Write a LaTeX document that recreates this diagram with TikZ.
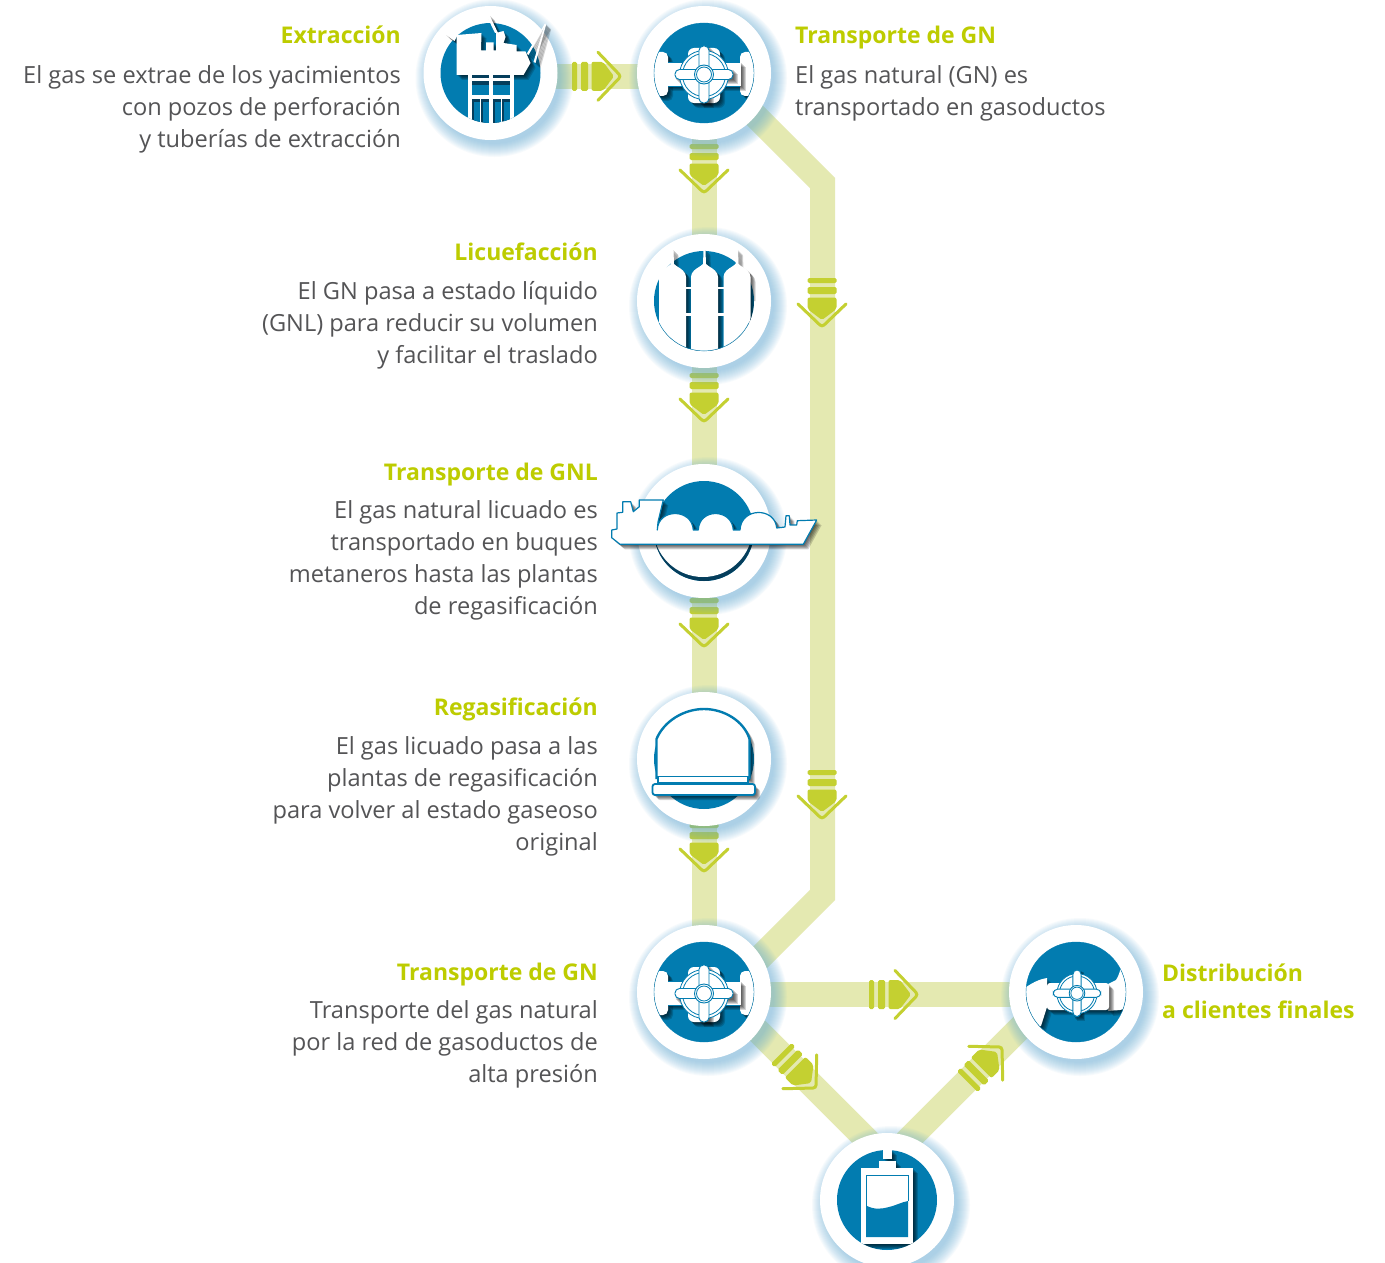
\documentclass[tikz,border=0pt]{standalone}
\usepackage{fontspec}
\setmainfont{Open Sans}
\definecolor{gblue}{RGB}{2,124,176}
\definecolor{gdark}{RGB}{5,62,92}
\definecolor{gpipe}{RGB}{228,233,177}
\definecolor{garrow}{RGB}{196,208,49}
\definecolor{gtitle}{RGB}{189,204,0}
\definecolor{gtext}{RGB}{84,84,86}
\definecolor{gglow}{RGB}{105,175,215}
\newcommand{\shad}[1]{\foreach \d in {5,...,1}{\fill[black,opacity=.17,shift={(\d,\d)}] #1;}}
\newcommand{\solid}[1]{\shad{#1}\fill[white] #1;}
\newcommand{\flowmark}[3]{\begin{scope}[shift={(#1,#2)},rotate=#3]
 \fill[garrow,rounded corners=1.5] (-49,-14.5) rectangle (-44,14.5);
 \fill[garrow,rounded corners=1.5] (-40,-14.5) rectangle (-33,14.5);
 \fill[garrow,rounded corners=2] (-29.5,-14.5) -- (-18,-14.5) -- (-7,0) -- (-18,14.5) -- (-29.5,14.5) -- cycle;
 \draw[garrow,line width=3,line cap=round,rounded corners=3] (-23,-24) -- (0,0) -- (-23,24);
\end{scope}}
\newcommand{\wheel}{%
 \draw[gblue,line width=.8,fill=white] (0,2) circle (24.5);
 \draw[gblue,line width=.8] (0,2) circle (21.5);
 \draw[gblue,line width=.9,fill=white,rounded corners=4.5] (-29,-3.5) rectangle (29,6.5);
 \draw[gblue,line width=.9,fill=white,rounded corners=4.5] (-5,-27) rectangle (5,30);
 \draw[gblue,line width=.9,fill=white] (0,1.5) circle (9.5);
 \draw[gblue,line width=.8] (0,1.5) circle (7.5);
}
\newcommand{\valveicon}[2]{\begin{scope}[shift={(#1,#2)}]
 \fill[gblue] (0,0) circle (50);
 \begin{scope}
 \clip (0,0) circle (50);
 \solid{[rounded corners=5] (-54,-21) rectangle (-36,23)}
 \solid{[rounded corners=5] (36,-21) rectangle (54,23)}
 \solid{(-37,-11) rectangle (37,13)}
 \solid{[rounded corners=6] (-16,-25) rectangle (16,30)}
 \shad{(-29,-3.5) rectangle (29,6.5)}
 \shad{(-5,-27) rectangle (5,30)}
 \draw[gblue,line width=.7] (-36,-11) -- (36,-11) (-36,13) -- (36,13);
 \wheel
 \end{scope}
 \draw[gblue,line width=.4] (0,0) circle (50);
\end{scope}}
\newcommand{\bodytext}[5]{\node[bodytxt,anchor=north #1,align=#2] (#3) at (#4) {\rule{0pt}{20pt}#5};}
\tikzset{
 pipe/.style={gpipe,line width=25,line cap=butt,line join=miter},
 disc/.style={circle,fill=white,minimum size=134,inner sep=0},
 ttl/.style={font=\fontsize{23}{32}\selectfont\bfseries,text=gtitle,inner sep=0},
 bodytxt/.style={font=\fontsize{23.6}{32}\selectfont,text=gtext,inner sep=0}
}
\begin{document}
\begin{tikzpicture}[x=1pt,y=-1pt]
\path[clip] (0,0) rectangle (1385,1263);
\fill[white] (0,0) rectangle (1385,1263);
% centres
\coordinate (cExt) at (490.5,73);
\coordinate (cVal) at (704,73);
\coordinate (cLiq) at (704,301);
\coordinate (cShip) at (704,531);
\coordinate (cReg) at (704,759);
\coordinate (cRed) at (704,992);
\coordinate (cDis) at (1076,992);
\coordinate (cTan) at (887,1200);
% pipe way points
\coordinate (pa) at (490,76.3);
\coordinate (pb) at (704,76.3);
\coordinate (pc) at (822.5,183);
\coordinate (pd) at (712,72.5);
\coordinate (pe) at (822.5,895);
\coordinate (pf) at (722,995.5);
\coordinate (pg) at (704,994.5);
\coordinate (ph) at (1076,994.5);
\coordinate (pi) at (704,977);
\coordinate (pj) at (900,1173);
\coordinate (pk) at (1076,972);
\coordinate (pl) at (870,1178);
\draw[pipe] (pa) -- (pb);
\draw[pipe] (cVal) -- (cRed);
\draw[pipe] (pd) -- (pc) -- (pe) -- (pf);
\draw[pipe] (pg) -- (ph);
\draw[pipe] (pi) -- (pj);
\draw[pipe] (pk) -- (pl);
% arrows
\flowmark{621}{76.3}{0}
\flowmark{704}{193}{-90}
\flowmark{822}{327}{-90}
\flowmark{704}{422}{-90}
\flowmark{704}{647}{-90}
\flowmark{822}{819}{-90}
\flowmark{704}{872}{-90}
\flowmark{918}{994.5}{0}
\flowmark{816}{1088}{-45}
\flowmark{1002}{1047}{45}
% glows
\foreach \c in {cExt,cVal,cLiq,cShip,cReg,cRed,cDis,cTan}{
 \foreach \r in {66,...,79}{
  \fill[gglow,opacity=.05] ([shift={(4,5)}]\c) circle (\r);
 }
}
% discs
\node[disc] (ext) at (cExt) {};
\node[disc] (val) at (cVal) {};
\node[disc] (liq) at (cLiq) {};
\node[disc] (shp) at (cShip) {};
\node[disc] (reg) at (cReg) {};
\node[disc] (red) at (cRed) {};
\node[disc] (dis) at (cDis) {};
\node[disc] (tan) at (cTan) {};
% platform icon
\begin{scope}[shift={(cExt)}]
 \fill[gblue] (0,0) circle (50);
 \solid{(-45.5,-39) -- (-33,-38) -- (-36,-32) -- cycle}
 \solid{(-3.5,-56.5) -- (-1,-58) -- (7.5,-40) -- (4.5,-40) -- cycle}
 \solid{(54.5,-49.5) -- (55,-48) -- (38,-18) -- (36,-19) -- cycle}
 \solid{(54.5,-49.5) -- (55.5,-48) -- (45,-10) -- (43,-11) -- cycle}
 \solid{(-34,-38) -- (-9,-40) -- (-9.5,-22.5) -- (-4.5,-22.5) -- (-4.5,-30.5) -- (3,-30.5) -- (3,-22.5) -- (5.5,-22.5) -- (5.5,-40) -- (13,-42) -- (15,-36) -- (13,-30) -- (26,-28) -- (26,-21.5) -- (35,-21.5) -- (40,-10) -- (33,2) -- (-34,2) -- cycle}
 \begin{scope}
  \clip (0,0) circle (50);
  \fill[white] (-23,2) rectangle (23.5,55);
  \fill[gdark] (-18.5,2) rectangle (-2,5);
  \fill[gdark] (2.5,2) rectangle (19,5);
  \fill[gdark] (-18.5,8) rectangle (-2,22);
  \fill[gdark] (2.5,8) rectangle (19,22);
  \fill[gblue] (-18.5,12) rectangle (-2,22);
  \fill[gblue] (2.5,12) rectangle (19,22);
  \foreach \a in {-18.5,-9.5,2.5,11.5}{
   \fill[gdark] (\a,26) rectangle ++(7.5,30);
   \fill[gblue] (\a+2,29) rectangle ++(5.5,27);
  }
 \end{scope}
\end{scope}
% valve icons
\valveicon{704}{73}
\valveicon{704}{992}
% liquefaction icon
\begin{scope}[shift={(cLiq)}]
 \fill[gblue] (0,0) circle (50);
 \begin{scope}
  \clip (-60,-60) -- (60,-60) -- (60,0) -- (50,0) arc[start angle=0,end angle=180,radius=50] -- (-60,0) -- cycle;
  \foreach \x in {-31.5,0.5,33}{
   \solid{(\x-1,-50) -- (\x,-52) -- (\x+1,-50) -- (\x+1.5,-37) -- (\x+4,-35) .. controls (\x+9,-32) and (\x+13.5,-29) .. (\x+13.5,-24) -- (\x+13.5,60) -- (\x-13.5,60) -- (\x-13.5,-24) .. controls (\x-13.5,-29) and (\x-9,-32) .. (\x-4,-35) -- (\x-1.5,-37) -- cycle}
  }
  \fill[white] (-20,-14.5) rectangle (20,-12);
  \fill[white] (-20,12) rectangle (20,14.5);
 \end{scope}
 \draw[gblue,line width=.4] (-45,21.8) arc[start angle=154,end angle=26,radius=50];
\end{scope}
% regas icon
\begin{scope}[shift={(cReg)}]
 \fill[gblue] (0,0) circle (50);
 \solid{(-47.5,20) -- (-47.5,-20) .. controls (-40,-38) and (-20,-50) .. (0,-50) .. controls (20,-50) and (40,-38) .. (45.5,-20) -- (45.5,20) -- cycle}
 \draw[gblue,line width=2.4] (-47.5,20) -- (-47.5,-20) .. controls (-40,-38) and (-20,-50) .. (0,-50) .. controls (20,-50) and (40,-38) .. (45.5,-20) -- (45.5,20);
 \draw[gblue,line width=1.4,fill=white] (-46,17.5) rectangle (44,24);
 \shad{[rounded corners=2.5] (-51.5,25) rectangle (51,36)}
 \draw[gblue,line width=1.8,fill=white,rounded corners=2.5] (-51.5,25) rectangle (51,36);
\end{scope}
% tank icon
\begin{scope}[shift={(cTan)}]
 \fill[gblue] (0,0) circle (50);
 \begin{scope}
  \clip (0,0) circle (50);
  \solid{(-4.5,-50) rectangle (5,-41)}
  \solid{(-8,-39.5) rectangle (9,-32.5)}
  \solid{(-26,-32) rectangle (26,44)}
 \end{scope}
 \fill[gblue] (-21,5.5) .. controls (-12,10) and (-6,9) .. (2,7) .. controls (10,5) and (15,2) .. (21,1) -- (21,37) -- (-21,37) -- cycle;
 \draw[gblue,line width=.8] (-21,5.5) -- (-21,-24.5) -- (21,-24.5) -- (21,1);
\end{scope}
% distribution icon
\begin{scope}[shift={(cDis)}]
 \fill[gblue] (0,0) circle (50);
 \begin{scope}
  \clip (0,0) circle (50);
  \solid{(-55,-2) -- (-45,-8) .. controls (-40,-11) and (-35,-13) .. (-29,-14) -- (-29,15) -- (-35,34) -- (-55,40) -- cycle}
  \solid{(32,-8) -- (40,-12) .. controls (43,-16) and (44,-22) .. (46,-28) -- (60,-28) -- (60,14) -- (48,17) .. controls (42,19) and (38,18) .. (32,19) -- cycle}
  \solid{[rounded corners=3] (-29,-9) rectangle (33,18)}
  \begin{scope}[shift={(1,0)},scale=.82]
   \shad{(-5,-27) rectangle (5,30)}
   \wheel
  \end{scope}
 \end{scope}
 \draw[gblue,line width=.4] (0,0) circle (50);
\end{scope}
% ship icon
\begin{scope}[shift={(cShip)}]
 \fill[gblue] (0,0) circle (50);
 \begin{scope}
  \clip (-60,14) rectangle (60,60);
  \fill[gdark] (0,0) circle (50);
  \fill[white] (-1,-3.5) circle (49.5);
 \end{scope}
\end{scope}
\newcommand{\shippath}{(611.7,530) -- (617,529) -- (617,513) -- (622.7,512.3) -- (622.7,501.7) -- (630.7,501.7) -- (633.3,511.7) -- (639.3,506.7) -- (639.3,500) -- (663.3,500) -- (658,522) -- (657.3,530) .. controls (658,508) and (692,508) .. (693.3,530) -- (698.3,530) .. controls (699,508) and (732,508) .. (733.3,530) -- (740,530) .. controls (741,507) and (775,507) .. (776.7,528) -- (785,527) -- (786,515.7) -- (789.3,515.7) -- (790,525) -- (796.7,525) -- (797.3,520.7) -- (816.7,520) -- (803.3,544.3) -- (620,544.3) -- (611.7,537.7) -- cycle}
\shad{\shippath}
\draw[gblue,line width=1.2,line join=round,fill=white] \shippath;
% labels
\node[ttl,anchor=base east] (t1) at (401,44) {Extracción};
\bodytext{east}{right}{b1}{401,63}{El gas se extrae de los yacimientos\\con pozos de perforación\\y tuberías de extracción}
\node[ttl,anchor=base west] (t2) at (795,44) {Transporte de GN};
\bodytext{west}{left}{b2}{795,63}{El gas natural (GN) es\\transportado en gasoductos}
\node[ttl,anchor=base east] (t3) at (598,260) {Licuefacción};
\bodytext{east}{right}{b3}{598,279}{El GN pasa a estado líquido\\(GNL) para reducir su volumen\\y facilitar el traslado}
\node[ttl,anchor=base east] (t4) at (598,480) {Transporte de GNL};
\bodytext{east}{right}{b4}{598,498}{El gas natural licuado es\\transportado en buques\\metaneros hasta las plantas\\de regasificación}
\node[ttl,anchor=base east] (t5) at (598,715) {Regasificación};
\bodytext{east}{right}{b5}{598,734}{El gas licuado pasa a las\\plantas de regasificación\\para volver al estado gaseoso\\original}
\node[ttl,anchor=base east] (t6) at (598,980) {Transporte de GN};
\bodytext{east}{right}{b6}{598,998}{Transporte del gas natural\\por la red de gasoductos de\\alta presión}
\node[ttl,anchor=base west] (t7) at (1162,981) {Distribución};
\node[ttl,anchor=base west] (t8) at (1162,1018) {a clientes finales};
\end{tikzpicture}
\end{document}
